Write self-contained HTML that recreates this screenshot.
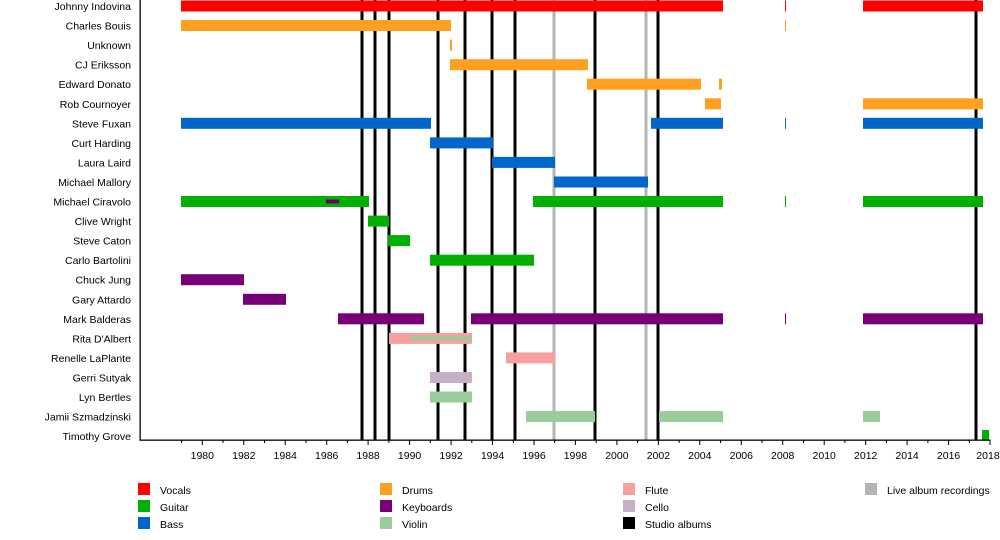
<!DOCTYPE html>
<html><head><meta charset="utf-8"><style>
html,body{margin:0;padding:0;background:#fff;}
svg{display:block;font-family:"Liberation Sans",sans-serif;}
</style></head><body>
<svg width="1000" height="540" viewBox="0 0 1000 540" xmlns="http://www.w3.org/2000/svg">
<g fill="#000">
<rect x="360.5" y="0" width="3" height="440"/>
<rect x="373.5" y="0" width="3" height="440"/>
<rect x="387.5" y="0" width="3" height="440"/>
<rect x="436.5" y="0" width="3" height="440"/>
<rect x="463.5" y="0" width="3" height="440"/>
<rect x="490.5" y="0" width="3" height="440"/>
<rect x="513.5" y="0" width="3" height="440"/>
<rect x="593.5" y="0" width="3" height="440"/>
<rect x="656.5" y="0" width="3" height="440"/>
<rect x="974.5" y="0" width="3" height="440"/>
</g>
<g fill="#b4b4b4">
<rect x="552.5" y="0" width="3" height="440"/>
<rect x="644.5" y="0" width="3" height="440"/>
</g>
<g id="bars">
<g fill="#ff0000"><rect x="181" y="0.5" width="542" height="11"/><rect x="785" y="0.5" width="1" height="11"/><rect x="863" y="0.5" width="120" height="11"/></g>
<g fill="#ffa020">
<rect x="181" y="20" width="270" height="11"/><rect x="785" y="20" width="1" height="11"/>
<rect x="450" y="39.6" width="2" height="11"/>
<rect x="450" y="59.2" width="138" height="11"/>
<rect x="587" y="78.7" width="114" height="11"/><rect x="719" y="78.7" width="3" height="11"/>
<rect x="705" y="98.3" width="16" height="11"/><rect x="863" y="98.3" width="120" height="11"/>
</g>
<g fill="#0066cc">
<rect x="181" y="117.8" width="250" height="11"/><rect x="651" y="117.8" width="72" height="11"/><rect x="785" y="117.8" width="1" height="11"/><rect x="863" y="117.8" width="120" height="11"/>
<rect x="430" y="137.4" width="63" height="11"/>
<rect x="492" y="156.9" width="63" height="11"/>
<rect x="554" y="176.5" width="94" height="11"/>
</g>
<g fill="#00b000">
<rect x="181" y="196" width="188" height="11"/><rect x="533" y="196" width="190" height="11"/><rect x="785" y="196" width="1" height="11"/><rect x="863" y="196" width="120" height="11"/>
<rect x="368" y="215.6" width="21" height="11"/>
<rect x="388" y="235.1" width="22" height="11"/>
<rect x="430" y="254.7" width="104" height="11"/>
<rect x="982" y="430" width="7" height="10"/>
</g>
<rect x="326" y="199.5" width="13" height="4" fill="#660066"/>
<g fill="#770077">
<rect x="181" y="274.2" width="63" height="11"/>
<rect x="243" y="293.8" width="43" height="11"/>
<rect x="338" y="313.3" width="86" height="11"/><rect x="471" y="313.3" width="252" height="11"/><rect x="785" y="313.3" width="1" height="11"/><rect x="863" y="313.3" width="120" height="11"/>
</g>
<g fill="#f8a0a0">
<rect x="389" y="332.9" width="83" height="11"/>
<rect x="506" y="352.4" width="49" height="11"/>
</g>
<rect x="410" y="336.5" width="62" height="4" fill="#99cc99"/>
<rect x="430" y="372" width="42" height="11" fill="#c8b0c8"/>
<g fill="#99cc99">
<rect x="430" y="391.5" width="42" height="11"/>
<rect x="526" y="411.1" width="69" height="11"/><rect x="659" y="411.1" width="64" height="11"/><rect x="863" y="411.1" width="17" height="11"/>
</g>
</g>
<rect x="139.5" y="0" width="1.3" height="440.5" fill="#000"/>
<rect x="139.5" y="439.5" width="851" height="1.3" fill="#000"/>
<g stroke="#000" stroke-width="1">
<line x1="181.6" y1="440" x2="181.6" y2="443"/><line x1="223" y1="440" x2="223" y2="443"/><line x1="264.5" y1="440" x2="264.5" y2="443"/><line x1="306" y1="440" x2="306" y2="443"/><line x1="347.4" y1="440" x2="347.4" y2="443"/><line x1="388.9" y1="440" x2="388.9" y2="443"/><line x1="430.3" y1="440" x2="430.3" y2="443"/><line x1="471.8" y1="440" x2="471.8" y2="443"/><line x1="513.3" y1="440" x2="513.3" y2="443"/><line x1="554.7" y1="440" x2="554.7" y2="443"/><line x1="596.2" y1="440" x2="596.2" y2="443"/><line x1="637.6" y1="440" x2="637.6" y2="443"/><line x1="679.1" y1="440" x2="679.1" y2="443"/><line x1="720.6" y1="440" x2="720.6" y2="443"/><line x1="762" y1="440" x2="762" y2="443"/><line x1="803.5" y1="440" x2="803.5" y2="443"/><line x1="844.9" y1="440" x2="844.9" y2="443"/><line x1="886.4" y1="440" x2="886.4" y2="443"/><line x1="927.9" y1="440" x2="927.9" y2="443"/><line x1="969.3" y1="440" x2="969.3" y2="443"/>
<line x1="202.3" y1="440" x2="202.3" y2="445"/><line x1="243.8" y1="440" x2="243.8" y2="445"/><line x1="285.2" y1="440" x2="285.2" y2="445"/><line x1="326.7" y1="440" x2="326.7" y2="445"/><line x1="368.1" y1="440" x2="368.1" y2="445"/><line x1="409.6" y1="440" x2="409.6" y2="445"/><line x1="451.1" y1="440" x2="451.1" y2="445"/><line x1="492.5" y1="440" x2="492.5" y2="445"/><line x1="534" y1="440" x2="534" y2="445"/><line x1="575.4" y1="440" x2="575.4" y2="445"/><line x1="616.9" y1="440" x2="616.9" y2="445"/><line x1="658.4" y1="440" x2="658.4" y2="445"/><line x1="699.8" y1="440" x2="699.8" y2="445"/><line x1="741.3" y1="440" x2="741.3" y2="445"/><line x1="782.7" y1="440" x2="782.7" y2="445"/><line x1="824.2" y1="440" x2="824.2" y2="445"/><line x1="865.7" y1="440" x2="865.7" y2="445"/><line x1="907.1" y1="440" x2="907.1" y2="445"/><line x1="948.6" y1="440" x2="948.6" y2="445"/><line x1="990" y1="440" x2="990" y2="445"/>
</g>
<g font-size="10.5" text-anchor="middle" fill="#000">
<text x="202.3" y="459">1980</text><text x="243.8" y="459">1982</text><text x="285.2" y="459">1984</text><text x="326.7" y="459">1986</text><text x="368.1" y="459">1988</text><text x="409.6" y="459">1990</text><text x="451.1" y="459">1992</text><text x="492.5" y="459">1994</text><text x="534" y="459">1996</text><text x="575.4" y="459">1998</text><text x="616.9" y="459">2000</text><text x="658.4" y="459">2002</text><text x="699.8" y="459">2004</text><text x="741.3" y="459">2006</text><text x="782.7" y="459">2008</text><text x="824.2" y="459">2010</text><text x="865.7" y="459">2012</text><text x="907.1" y="459">2014</text><text x="948.6" y="459">2016</text><text x="988" y="459">2018</text>
</g>
<g font-size="10.5" text-anchor="end" fill="#000">
<text x="131" y="10">Johnny Indovina</text>
<text x="131" y="29.5">Charles Bouis</text>
<text x="131" y="49.1">Unknown</text>
<text x="131" y="68.7">CJ Eriksson</text>
<text x="131" y="88.2">Edward Donato</text>
<text x="131" y="107.8">Rob Cournoyer</text>
<text x="131" y="127.3">Steve Fuxan</text>
<text x="131" y="146.9">Curt Harding</text>
<text x="131" y="166.4">Laura Laird</text>
<text x="131" y="186">Michael Mallory</text>
<text x="131" y="205.5">Michael Ciravolo</text>
<text x="131" y="225.1">Clive Wright</text>
<text x="131" y="244.6">Steve Caton</text>
<text x="131" y="264.2">Carlo Bartolini</text>
<text x="131" y="283.7">Chuck Jung</text>
<text x="131" y="303.3">Gary Attardo</text>
<text x="131" y="322.8">Mark Balderas</text>
<text x="131" y="342.4">Rita D'Albert</text>
<text x="131" y="361.9">Renelle LaPlante</text>
<text x="131" y="381.5">Gerri Sutyak</text>
<text x="131" y="401">Lyn Bertles</text>
<text x="131" y="420.6">Jamii Szmadzinski</text>
<text x="131" y="440.1">Timothy Grove</text>
</g>
<g>
<rect x="138" y="483" width="12" height="12" fill="#ff0000"/>
<rect x="138" y="500" width="12" height="12" fill="#00b000"/>
<rect x="138" y="517" width="12" height="12" fill="#0066cc"/>
<rect x="380" y="483" width="12" height="12" fill="#ffa020"/>
<rect x="380" y="500" width="12" height="12" fill="#770077"/>
<rect x="380" y="517" width="12" height="12" fill="#99cc99"/>
<rect x="623" y="483" width="12" height="12" fill="#f8a0a0"/>
<rect x="623" y="500" width="12" height="12" fill="#c8b0c8"/>
<rect x="623" y="517" width="12" height="12" fill="#000"/>
<rect x="865" y="483" width="12" height="12" fill="#b4b4b4"/>
</g>
<g font-size="10.5" fill="#000">
<text x="160" y="494">Vocals</text><text x="160" y="511">Guitar</text><text x="160" y="528">Bass</text>
<text x="402" y="494">Drums</text><text x="402" y="511">Keyboards</text><text x="402" y="528">Violin</text>
<text x="645" y="494">Flute</text><text x="645" y="511">Cello</text><text x="645" y="528">Studio albums</text>
<text x="887" y="494">Live album recordings</text>
</g>
</svg>
</body></html>
